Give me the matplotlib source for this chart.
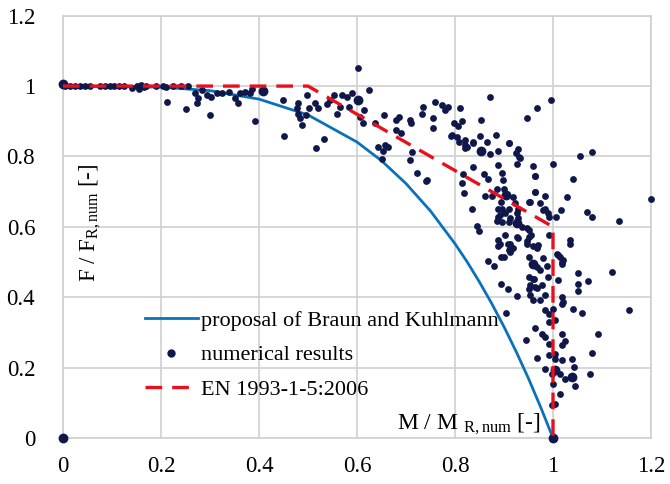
import matplotlib
matplotlib.use("Agg")
import matplotlib.pyplot as plt
from matplotlib.lines import Line2D

plt.rcParams['font.family'] = ['Liberation Serif', 'DejaVu Serif']
plt.rcParams['mathtext.fontset'] = 'custom'
plt.rcParams['mathtext.rm'] = 'Liberation Serif'
plt.rcParams['mathtext.it'] = 'Liberation Serif:italic'

# ---- data ----
curve_M = [0.0, 0.2, 0.3, 0.4, 0.5, 0.6, 0.65, 0.7, 0.75, 0.8, 0.825, 0.85, 0.875, 0.9, 0.925, 0.95, 0.975, 1.0]
curve_F = [1.0, 0.997, 0.987, 0.963, 0.918, 0.841, 0.788, 0.723, 0.645, 0.552, 0.500, 0.443, 0.382, 0.316, 0.245, 0.169, 0.087, 0.0]

en_M = [0.0, 0.5, 1.0, 1.0]
en_F = [1.0, 1.0, 0.6, 0.0]

num_M = [0.005, 0.015, 0.025, 0.035, 0.045, 0.055, 0.075, 0.085, 0.095, 0.105, 0.115, 0.125, 0.14, 0.15,
         0.155, 0.16, 0.165, 0.17, 0.19, 0.205, 0.21, 0.225, 0.24, 0.255,
         0.212, 0.252, 0.299, 0.392, 0.269, 0.276, 0.274, 0.283, 0.293, 0.303, 0.314, 0.324, 0.339, 0.351,
         0.358, 0.361, 0.371, 0.382, 0.385, 0.448, 0.450, 0.480, 0.477, 0.480, 0.484, 0.487, 0.497,
         0.496, 0.503, 0.514, 0.521, 0.516, 0.533, 0.539, 0.545, 0.553, 0.559, 0.565, 0.569, 0.579, 0.589,
         0.583, 0.602, 0.614, 0.606, 0.613, 0.625, 0.637, 0.656, 0.642, 0.657, 0.654, 0.664, 0.679,
         0.686, 0.679, 0.689, 0.708, 0.710, 0.713, 0.708, 0.652, 0.722, 0.740, 0.732, 0.735, 0.756, 0.756,
         0.759, 0.773, 0.780, 0.785, 0.810, 0.814, 0.797, 0.807, 0.792, 0.805, 0.808, 0.820, 0.824, 0.837,
         0.851, 0.854, 0.865, 0.871, 0.871, 0.883, 0.887, 0.888, 0.837, 0.860, 0.867, 0.895, 0.897,
         0.816, 0.815, 0.818, 0.834, 0.844, 0.849, 0.861, 0.875, 0.885, 0.899, 0.894, 0.895, 0.902,
         0.888, 0.885, 0.895, 0.910, 0.928, 0.924, 0.933, 0.926, 0.922, 0.928, 0.919, 0.910, 0.929,
         0.936, 0.946, 0.968, 0.995, 0.960, 0.963, 1.001, 0.963, 0.952, 0.973, 0.984, 0.980, 0.990, 1.006,
         1.016, 0.991, 1.029, 1.040, 1.055, 1.080, 1.069, 1.079, 1.135, 1.200, 0.952, 0.956, 0.991, 1.035,
         0.902, 0.888, 0.926, 0.888, 0.909, 0.946, 0.960, 0.970, 1.035, 0.899, 0.912, 0.868, 0.880, 0.950,
         0.967, 0.980, 0.987, 1.008, 1.014, 1.021, 1.018, 1.120, 1.050, 1.072, 1.050, 1.050, 0.894,
         0.908, 0.926, 0.950, 0.960, 0.950, 0.963, 0.977, 0.990, 0.984, 0.960, 0.973, 1.018, 1.018, 1.041,
         1.059, 1.155, 0.905, 0.984, 0.991, 1.001, 0.991, 1.004, 0.963, 0.977, 0.984, 0.944, 1.018, 1.025,
         1.091, 0.991, 1.018, 1.004, 0.991, 0.968, 1.004, 1.018, 1.039, 1.079, 0.984, 0.997, 1.014,
         1.025, 1.043, 1.076, 1.045, 1.001, 1.014, 1.004, 0.997, 1.011, 1.018, 1.011, 1.021,
         0.892, 0.894, 0.912, 0.911, 0.919, 0.929, 0.946, 0.952, 0.967, 0.973, 0.962, 0.953, 0.967, 0.954,
         0.892, 0.888, 0.911, 0.912, 0.927, 0.946, 0.953, 0.984,
         0.911, 0.931, 0.963, 0.963, 0.742, 0.837, 0.820, 0.820, 0.793]
num_F = [1.0, 1.0, 1.0, 1.0, 1.0, 0.999, 1.0, 0.999, 1.0, 1.0, 0.999, 1.0, 0.995, 1.0,
         0.993, 1.002, 0.998, 1.0, 1.0, 1.0, 0.998, 1.0, 1.0, 1.0,
         0.955, 0.934, 0.918, 0.901, 0.979, 0.965, 0.951, 0.989, 0.974, 0.970, 0.981, 0.979, 0.984, 0.965,
         0.951, 0.979, 0.984, 0.979, 0.993, 0.960, 0.857, 0.951, 0.937, 0.922, 0.908, 0.889, 0.976,
         0.918, 0.939, 0.951, 0.939, 0.823, 0.849, 0.948, 0.960, 0.974, 0.920, 0.941, 0.976, 0.970, 0.979,
         0.941, 1.050, 0.932, 0.911, 0.894, 0.989, 0.896, 0.918, 0.828, 0.834, 0.816, 0.828, 0.905,
         0.911, 0.875, 0.867, 0.903, 0.894, 0.812, 0.790, 0.793, 0.752, 0.730, 0.922, 0.941, 0.908, 0.880,
         0.955, 0.946, 0.932, 0.940, 0.937, 0.901, 0.894, 0.886, 0.858, 0.856, 0.842, 0.847, 0.828, 0.839,
         0.858, 0.903, 0.842, 0.968, 0.807, 0.861, 0.816, 0.776, 0.771, 0.750, 0.735, 0.754, 0.733,
         0.750, 0.724, 0.695, 0.650, 0.603, 0.589, 0.688, 0.688, 0.707, 0.707, 0.671, 0.652, 0.638,
         0.629, 0.617, 0.614, 0.837, 0.821, 0.809, 0.795, 0.778, 0.667, 0.652, 0.686, 0.614, 0.624,
         0.600, 0.908, 0.937, 0.960, 0.773, 0.745, 0.778, 0.698, 0.671, 0.667, 0.688, 0.648, 0.640, 0.627,
         0.648, 0.629, 0.684, 0.736, 0.802, 0.813, 0.643, 0.629, 0.617, 0.679, 0.591, 0.577, 0.577, 0.563,
         0.577, 0.563, 0.570, 0.547, 0.552, 0.552, 0.545, 0.549, 0.552, 0.514, 0.528, 0.503, 0.490, 0.514,
         0.486, 0.511, 0.490, 0.524, 0.514, 0.505, 0.495, 0.472, 0.470, 0.445, 0.438, 0.417, 0.438,
         0.422, 0.403, 0.457, 0.453, 0.424, 0.429, 0.434, 0.457, 0.405, 0.391, 0.391, 0.401, 0.382, 0.367,
         0.356, 0.365, 0.356, 0.363, 0.353, 0.367, 0.330, 0.334, 0.312, 0.296, 0.287, 0.278, 0.296, 0.276,
         0.295, 0.268, 0.263, 0.240, 0.235, 0.227, 0.225, 0.221, 0.224, 0.242, 0.197, 0.183, 0.183,
         0.168, 0.202, 0.181, 0.148, 0.154, 0.126, 0.097, 0.093, 0.449, 0.501, 0.520, 0.387,
         0.550, 0.515, 0.550, 0.534, 0.539, 0.567, 0.560, 0.572, 0.541, 0.477, 0.452, 0.435, 0.425, 0.406,
         0.634, 0.652, 0.650, 0.624, 0.638, 0.596, 0.671, 0.652,
         0.839, 0.799, 0.744, 0.700, 0.733, 0.840, 0.832, 0.823, 0.861]

# numerical results that appear as larger (overlapping) dots
big_M = [0.0, 1.0, 0.0, 0.409, 0.603, 0.853, 0.905, 0.926, 0.960, 1.004, 1.038]
big_F = [0.0, 0.0, 1.005, 0.986, 0.960, 0.816, 0.690, 0.610, 0.495, 0.192, 0.173]

x_ticks = [0, 0.2, 0.4, 0.6, 0.8, 1.0, 1.2]
x_tick_labels = ['0', '0.2', '0.4', '0.6', '0.8', '1', '1.2']
y_ticks = [0, 0.2, 0.4, 0.6, 0.8, 1.0, 1.2]
y_tick_labels = ['0', '0.2', '0.4', '0.6', '0.8', '1', '1.2']

# ---- figure ----
fig = plt.figure(figsize=(6.70, 4.84), dpi=100)
ax = fig.add_axes([63 / 670, 1 - 438 / 484, (651 - 63) / 670, (438 - 15.7) / 484])

grid_c = '#d0d0d0'
ax.set_xlim(0, 1.2)
ax.set_ylim(0, 1.2)
ax.set_xticks(x_ticks)
ax.set_xticklabels(x_tick_labels)
ax.set_yticks(y_ticks)
ax.set_yticklabels(y_tick_labels)
ax.tick_params(length=0, labelsize=16.5, colors='black')
ax.tick_params(axis='x', pad=13)
ax.tick_params(axis='y', pad=20)
ax.grid(True, color=grid_c, linewidth=1.2)
ax.set_axisbelow(True)
for s in ax.spines.values():
    s.set_color(grid_c)
    s.set_linewidth(1.2)

navy = '#10174a'
blue = '#0a72bb'
red = '#e8101c'
dash = (0, (5, 3))

ax.plot(curve_M, curve_F, color=blue, linewidth=2.0, zorder=3)
ax.scatter(num_M, num_F, s=24, color=navy, zorder=4, linewidths=0, clip_on=False)
ax.scatter(big_M, big_F, s=50, color=navy, zorder=4, linewidths=0, clip_on=False)
ax.plot(en_M, en_F, color=red, linewidth=2.4, linestyle=dash, zorder=5)

ax.text(0.682, 0.026, r'M / M $_{\mathrm{R,num}}$ [-]', fontsize=17, ha='left', va='baseline', zorder=6)
ax.text(0.055, 0.61, r'F / F$_{\mathrm{R,num}}$ [-]', fontsize=16.5, rotation=90, ha='center', va='center', zorder=6)

handles = [Line2D([], [], color=blue, linewidth=2.0),
           Line2D([], [], color=navy, marker='o', linestyle='none', markersize=6, markeredgewidth=0),
           Line2D([], [], color=red, linewidth=2.4, linestyle=dash)]
labels = ['proposal of Braun and Kuhlmann', 'numerical results', 'EN 1993-1-5:2006']
ax.legend(handles, labels, loc='upper left', bbox_to_anchor=(0.139, 0.302), frameon=False,
          fontsize=16, handlelength=2.38, handletextpad=0.15, labelspacing=0.62,
          borderaxespad=0, borderpad=0)

fig.savefig('out.png', dpi=100)
